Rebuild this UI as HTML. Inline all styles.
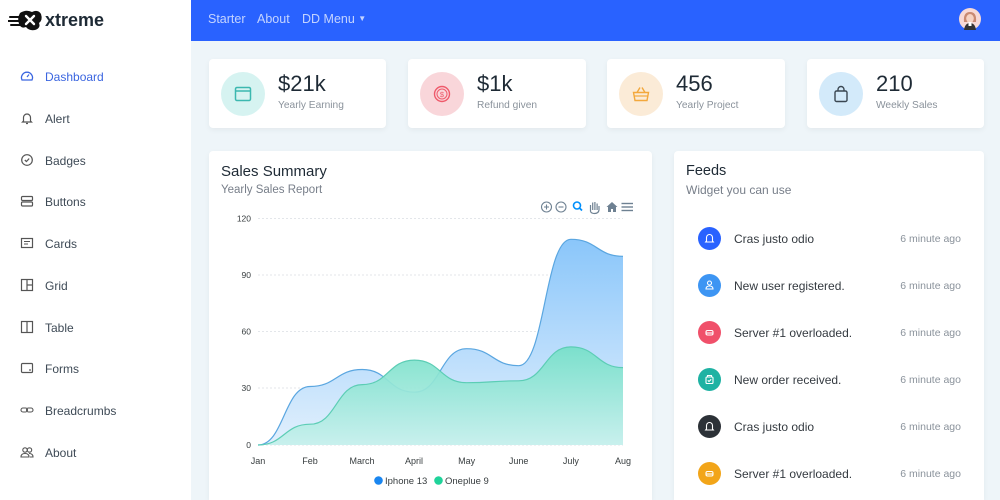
<!DOCTYPE html>
<html><head><meta charset="utf-8">
<style>
*{margin:0;padding:0;box-sizing:border-box}
html{width:1000px;height:500px;overflow:hidden}
body{width:1000px;height:500px;overflow:hidden;background:#eef5f9;font-family:"Liberation Sans",sans-serif;position:relative}
.abs{position:absolute}
.side{left:0;top:0;width:191px;height:500px;background:#fff}
.top{left:191px;top:0;width:809px;height:41px;background:#2962ff}
.nav{color:rgba(255,255,255,.72);font-size:12.5px;top:11px;line-height:16px}
.card{background:#fff;border-radius:4px;box-shadow:0 2px 6px rgba(0,0,0,.05)}
.si{left:45px;font-size:12px;color:#3e4a56;line-height:14px;white-space:nowrap}
.sic{left:20px;width:14px;height:14px}
.circ{border-radius:50%;width:44px;height:44px}
.val{font-size:22px;color:#1e2a35;line-height:24px}
.lbl{font-size:10.2px;color:#8a929b;line-height:12px}
.ft{left:734px;font-size:12px;color:#343a40;line-height:14px;white-space:nowrap}
.tm{left:880px;width:81px;text-align:right;font-size:10.5px;color:#8a929b;line-height:12px}
.fc{left:698px;width:23px;height:23px;border-radius:50%}
</style></head><body>
<div class="abs side"></div>
<div class="abs top"></div>

<!-- logo -->
<svg class="abs" style="left:8px;top:8px" width="36" height="24" viewBox="0 0 36 24">
<g stroke="#111" stroke-width="2" stroke-linecap="round"><line x1="2" y1="9" x2="12" y2="9"/><line x1="0" y1="13" x2="11" y2="13"/><line x1="3" y1="17" x2="12" y2="17"/></g>
<path d="M12 5 Q18 1 24 4 Q30 1 33 6 Q35 12 31 15 Q33 20 27 22 Q21 23 18 19 Q13 21 11 16 Q9 10 12 5Z" fill="#111"/>
<path d="M18 8 L26 16 M26 8 L18 16" stroke="#fff" stroke-width="2.4" stroke-linecap="round"/>
</svg>
<div class="abs" style="left:45px;top:10px;font-size:18px;font-weight:bold;color:#1e2a35;line-height:20px">xtreme</div>

<!-- top nav -->
<div class="abs nav" style="left:208px">Starter</div>
<div class="abs nav" style="left:257px">About</div>
<div class="abs nav" style="left:302px">DD Menu <span style="font-size:8px;vertical-align:2px">▼</span></div>
<svg class="abs" style="left:959px;top:8px" width="22" height="22" viewBox="0 0 22 22">
<circle cx="11" cy="11" r="11" fill="#f7d9d6"/>
<path d="M5 14 Q4 4 11 4 Q18 4 17 14 Z" fill="#c98a72"/>
<ellipse cx="11" cy="10.5" rx="3.8" ry="4.5" fill="#f6d3c4"/>
<path d="M5 22 Q6 15 11 15 Q16 15 17 22Z" fill="#333"/>
<rect x="9.5" y="14" width="3" height="4" fill="#fff"/>
</svg>

<!-- sidebar items -->
<svg class="abs sic" style="top:69px" viewBox="0 0 14 14"><path d="M2 11 A5.5 5.5 0 1 1 12 11 Z" fill="none" stroke="#3b66e0" stroke-width="1.3"/><line x1="7" y1="8" x2="9" y2="5.5" stroke="#3b66e0" stroke-width="1.2"/></svg>
<div class="abs si" style="top:70px;color:#3b66e0">Dashboard</div>
<svg class="abs sic" style="top:111px" viewBox="0 0 14 14"><path d="M3.5 10 V6.5 A3.5 3.5 0 0 1 10.5 6.5 V10 L11.5 11 H2.5 Z M6 12.5 H8" fill="none" stroke="#555" stroke-width="1.2"/></svg>
<div class="abs si" style="top:112px">Alert</div>
<svg class="abs sic" style="top:153px" viewBox="0 0 14 14"><circle cx="7" cy="7" r="5.3" fill="none" stroke="#555" stroke-width="1.2"/><path d="M4.8 7 L6.4 8.5 L9.2 5.6" fill="none" stroke="#555" stroke-width="1.2"/></svg>
<div class="abs si" style="top:154px">Badges</div>
<svg class="abs sic" style="top:194px" viewBox="0 0 14 14"><rect x="1.5" y="2.5" width="11" height="4" rx="1" fill="none" stroke="#555" stroke-width="1.2"/><rect x="1.5" y="8" width="11" height="4" rx="1" fill="none" stroke="#555" stroke-width="1.2"/></svg>
<div class="abs si" style="top:195px">Buttons</div>
<svg class="abs sic" style="top:236px" viewBox="0 0 14 14"><rect x="1.5" y="2.5" width="11" height="9" fill="none" stroke="#555" stroke-width="1.2"/><line x1="4" y1="5.5" x2="10" y2="5.5" stroke="#555"/><line x1="4" y1="8" x2="8" y2="8" stroke="#555"/></svg>
<div class="abs si" style="top:237px">Cards</div>
<svg class="abs sic" style="top:278px" viewBox="0 0 14 14"><rect x="1.5" y="1.5" width="11" height="11" fill="none" stroke="#555" stroke-width="1.2"/><line x1="7" y1="1.5" x2="7" y2="12.5" stroke="#555" stroke-width="1.2"/><line x1="7" y1="7" x2="12.5" y2="7" stroke="#555" stroke-width="1.2"/></svg>
<div class="abs si" style="top:279px">Grid</div>
<svg class="abs sic" style="top:320px" viewBox="0 0 14 14"><rect x="1.5" y="1.5" width="11" height="11" fill="none" stroke="#555" stroke-width="1.2"/><line x1="7" y1="1.5" x2="7" y2="12.5" stroke="#555" stroke-width="1.2"/></svg>
<div class="abs si" style="top:321px">Table</div>
<svg class="abs sic" style="top:361px" viewBox="0 0 14 14"><rect x="1.5" y="2.5" width="11" height="9" rx="1" fill="none" stroke="#555" stroke-width="1.2"/><circle cx="10" cy="9" r="0.9" fill="#555"/></svg>
<div class="abs si" style="top:362px">Forms</div>
<svg class="abs sic" style="top:403px" viewBox="0 0 14 14"><rect x="1" y="5" width="6.5" height="4" rx="2" fill="none" stroke="#555" stroke-width="1.1"/><rect x="6.5" y="5" width="6.5" height="4" rx="2" fill="none" stroke="#555" stroke-width="1.1"/></svg>
<div class="abs si" style="top:404px">Breadcrumbs</div>
<svg class="abs sic" style="top:445px" viewBox="0 0 14 14"><circle cx="5" cy="5" r="2.2" fill="none" stroke="#555" stroke-width="1.1"/><circle cx="9.5" cy="5" r="2.2" fill="none" stroke="#555" stroke-width="1.1"/><path d="M1 12 Q1 8.5 5 8.5 Q9 8.5 9 12 Z M9 8.5 Q13 8.5 13 12 H10" fill="none" stroke="#555" stroke-width="1.1"/></svg>
<div class="abs si" style="top:446px">About</div>

<!-- stat cards -->
<div class="abs card" style="left:209px;top:59px;width:177px;height:69px"></div>
<div class="abs card" style="left:408px;top:59px;width:178px;height:69px"></div>
<div class="abs card" style="left:607px;top:59px;width:178px;height:69px"></div>
<div class="abs card" style="left:807px;top:59px;width:177px;height:69px"></div>

<div class="abs circ" style="left:221px;top:72px;background:#d6f3f1"></div>
<svg class="abs" style="left:234px;top:86px" width="18" height="16" viewBox="0 0 18 16"><rect x="1.5" y="1.5" width="15" height="13" rx="1.5" fill="none" stroke="#3cb8b0" stroke-width="1.5"/><line x1="1.5" y1="5" x2="16.5" y2="5" stroke="#3cb8b0" stroke-width="1.5"/></svg>
<div class="abs val" style="left:278px;top:72px">$21k</div>
<div class="abs lbl" style="left:278px;top:100px">Yearly Earning</div>

<div class="abs circ" style="left:420px;top:72px;background:#f9d6da"></div>
<svg class="abs" style="left:433px;top:85px" width="18" height="18" viewBox="0 0 18 18"><circle cx="9" cy="9" r="7.5" fill="none" stroke="#ef5a6b" stroke-width="1.4"/><circle cx="9" cy="9" r="5" fill="none" stroke="#ef5a6b" stroke-width="1"/><text x="9" y="12" font-size="7.5" text-anchor="middle" fill="#ef5a6b" font-family="Liberation Sans">$</text></svg>
<div class="abs val" style="left:477px;top:72px">$1k</div>
<div class="abs lbl" style="left:477px;top:100px">Refund given</div>

<div class="abs circ" style="left:619px;top:72px;background:#fbebd7"></div>
<svg class="abs" style="left:632px;top:85px" width="18" height="18" viewBox="0 0 18 18"><path d="M1.5 7.5 H16.5 L15 15.5 H3 Z" fill="none" stroke="#f3a83c" stroke-width="1.4"/><path d="M5 7.5 L8 2.5 M13 7.5 L10 2.5" stroke="#f3a83c" stroke-width="1.4"/><line x1="2.5" y1="11" x2="15.5" y2="11" stroke="#f3a83c" stroke-width="1.2"/></svg>
<div class="abs val" style="left:676px;top:72px">456</div>
<div class="abs lbl" style="left:676px;top:100px">Yearly Project</div>

<div class="abs circ" style="left:819px;top:72px;background:#d3eafa"></div>
<svg class="abs" style="left:832px;top:85px" width="18" height="18" viewBox="0 0 18 18"><rect x="3" y="6" width="12" height="10.5" rx="1.5" fill="none" stroke="#3a4752" stroke-width="1.4"/><path d="M6 6 V4.5 A3 3 0 0 1 12 4.5 V6" fill="none" stroke="#3a4752" stroke-width="1.4"/></svg>
<div class="abs val" style="left:876px;top:72px">210</div>
<div class="abs lbl" style="left:876px;top:100px">Weekly Sales</div>

<!-- sales card -->
<div class="abs card" style="left:209px;top:151px;width:443px;height:349px;border-bottom-left-radius:0;border-bottom-right-radius:0"></div>
<div class="abs" style="left:221px;top:163px;font-size:15px;color:#1e2a35;line-height:17px">Sales Summary</div>
<div class="abs" style="left:221px;top:183px;font-size:11.5px;color:#777e89;line-height:14px">Yearly Sales Report</div>

<!-- feeds card -->
<div class="abs card" style="left:674px;top:151px;width:310px;height:349px;border-bottom-left-radius:0;border-bottom-right-radius:0"></div>
<div class="abs" style="left:686px;top:163px;font-size:14.5px;color:#1e2a35;line-height:17px">Feeds</div>
<div class="abs" style="left:686px;top:183px;font-size:12px;color:#777e89;line-height:14px">Widget you can use</div>

<div class="abs fc" style="top:227px;background:#2962ff"></div>
<div class="abs fc" style="top:274px;background:#3d95f3"></div>
<div class="abs fc" style="top:321px;background:#f0506a"></div>
<div class="abs fc" style="top:368px;background:#1fb2a3"></div>
<div class="abs fc" style="top:415px;background:#2c3137"></div>
<div class="abs fc" style="top:462px;background:#f2a519"></div>
<svg class="abs" style="left:698px;top:227px" width="23" height="270" viewBox="0 0 23 270">
<g fill="none" stroke="#fff" stroke-width="1.1">
<path d="M8.5 14 V10.5 A3 3 0 0 1 14.5 10.5 V14 L15.3 15 H7.7 Z"/>
<circle cx="11.5" cy="56" r="2"/><path d="M8 62 Q8 59 11.5 59 Q15 59 15 62 Z"/>
<rect x="8" y="103.5" width="7" height="4.5" rx="1.5"/><line x1="8" y1="106" x2="15" y2="106"/>
<rect x="8" y="150" width="7" height="6.5" rx="1"/><path d="M9.5 150 V148.5 H13.5 V150 M9.8 153.3 L11 154.5 L13.2 152.3"/>
<path d="M8.5 202 V198.5 A3 3 0 0 1 14.5 198.5 V202 L15.3 203 H7.7 Z"/>
<rect x="8" y="244.5" width="7" height="4.5" rx="1.5"/><line x1="8" y1="247" x2="15" y2="247"/>
</g></svg>

<div class="abs ft" style="top:232px">Cras justo odio</div>
<div class="abs tm" style="top:233px">6 minute ago</div>
<div class="abs ft" style="top:279px">New user registered.</div>
<div class="abs tm" style="top:280px">6 minute ago</div>
<div class="abs ft" style="top:326px">Server #1 overloaded.</div>
<div class="abs tm" style="top:327px">6 minute ago</div>
<div class="abs ft" style="top:373px">New order received.</div>
<div class="abs tm" style="top:374px">6 minute ago</div>
<div class="abs ft" style="top:420px">Cras justo odio</div>
<div class="abs tm" style="top:421px">6 minute ago</div>
<div class="abs ft" style="top:467px">Server #1 overloaded.</div>
<div class="abs tm" style="top:468px">6 minute ago</div>

<!-- chart -->
<svg class="abs" style="left:0;top:0" width="1000" height="500" viewBox="0 0 1000 500" font-family="Liberation Sans, sans-serif">
<defs>
<linearGradient id="gb" x1="0" y1="239" x2="0" y2="445" gradientUnits="userSpaceOnUse"><stop offset="0" stop-color="#8ac6fa"/><stop offset="1" stop-color="#e2f0fd"/></linearGradient>
<linearGradient id="gg" x1="0" y1="347" x2="0" y2="445" gradientUnits="userSpaceOnUse"><stop offset="0" stop-color="#76e0c8"/><stop offset="1" stop-color="#c6f0ec"/></linearGradient>
</defs>
<g stroke="#e3e6ea" stroke-width="1" stroke-dasharray="2 2">
<line x1="258" y1="218.5" x2="623" y2="218.5"/><line x1="258" y1="275" x2="623" y2="275"/><line x1="258" y1="331.5" x2="623" y2="331.5"/><line x1="258" y1="388" x2="623" y2="388"/><line x1="258" y1="445" x2="623" y2="445"/>
</g>
<path d="M258,445 C284,445 284,386.5 310.1,386.5 C336.2,386.5 336.2,369.5 362.3,369.5 C388.3,369.5 388.3,392.2 414.4,392.2 C440.5,392.2 440.5,348.7 466.6,348.7 C492.6,348.7 492.6,365.7 518.7,365.7 C544.8,365.7 544.8,239.3 570.9,239.3 C597,239.3 597,256.3 623,256.3 L623,445 Z" fill="url(#gb)"/>
<path d="M258,445 C284,445 284,386.5 310.1,386.5 C336.2,386.5 336.2,369.5 362.3,369.5 C388.3,369.5 388.3,392.2 414.4,392.2 C440.5,392.2 440.5,348.7 466.6,348.7 C492.6,348.7 492.6,365.7 518.7,365.7 C544.8,365.7 544.8,239.3 570.9,239.3 C597,239.3 597,256.3 623,256.3" fill="none" stroke="#5aa6e0" stroke-width="1.2"/>
<path d="M258,445 C284,445 284,424.2 310.1,424.2 C336.2,424.2 336.2,384.6 362.3,384.6 C388.3,384.6 388.3,360.1 414.4,360.1 C440.5,360.1 440.5,382.7 466.6,382.7 C492.6,382.7 492.6,380.8 518.7,380.8 C544.8,380.8 544.8,346.9 570.9,346.9 C597,346.9 597,367.6 623,367.6 L623,445 Z" fill="url(#gg)" fill-opacity="0.92"/>
<path d="M258,445 C284,445 284,424.2 310.1,424.2 C336.2,424.2 336.2,384.6 362.3,384.6 C388.3,384.6 388.3,360.1 414.4,360.1 C440.5,360.1 440.5,382.7 466.6,382.7 C492.6,382.7 492.6,380.8 518.7,380.8 C544.8,380.8 544.8,346.9 570.9,346.9 C597,346.9 597,367.6 623,367.6" fill="none" stroke="#5ccdb5" stroke-width="1.2"/>
<g font-size="8.5" fill="#373d3f" text-anchor="end">
<text x="251" y="221.5">120</text><text x="251" y="278">90</text><text x="251" y="334.5">60</text><text x="251" y="391">30</text><text x="251" y="448">0</text>
</g>
<g font-size="9" fill="#373d3f" text-anchor="middle">
<text x="258" y="464">Jan</text><text x="310" y="464">Feb</text><text x="362" y="464">March</text><text x="414" y="464">April</text><text x="466.6" y="464">May</text><text x="518.7" y="464">June</text><text x="570.9" y="464">July</text><text x="623" y="464">Aug</text>
</g>
<circle cx="378.5" cy="480.5" r="4.3" fill="#1a86f0"/>
<text x="385" y="484" font-size="9.5" fill="#373d3f">Iphone 13</text>
<circle cx="438.5" cy="480.5" r="4.3" fill="#1fd39a"/>
<text x="445" y="484" font-size="9.5" fill="#373d3f">Oneplue 9</text>
<!-- toolbar -->
<g fill="none" stroke="#6e8192" stroke-width="1.1">
<circle cx="546.5" cy="207" r="5"/><path d="M544 207 H549 M546.5 204.5 V209.5"/>
<circle cx="561" cy="207" r="5"/><path d="M558.5 207 H563.5"/>
</g>
<circle cx="577" cy="205.5" r="3.5" fill="none" stroke="#008ffb" stroke-width="1.6"/>
<line x1="579.5" y1="208" x2="582" y2="210.5" stroke="#008ffb" stroke-width="1.8"/>
<path d="M590.5 211.5 V205 M592.7 210 V202.5 M594.9 210 V202 M597.1 210 V203.5 M590.5 211.5 Q591.5 213.5 594.5 213.5 Q598.5 213.5 599 210 L599 206" fill="none" stroke="#6e8192" stroke-width="1.2"/>
<path d="M606.5 207 L612 202 L617.5 207 H616 V212 H613 V209 H611 V212 H608 V207 Z" fill="#6e8192"/>
<g stroke="#6e8192" stroke-width="1.4"><line x1="621.5" y1="203.5" x2="633" y2="203.5"/><line x1="621.5" y1="207" x2="633" y2="207"/><line x1="621.5" y1="210.5" x2="633" y2="210.5"/></g>
</svg>
</body></html>
